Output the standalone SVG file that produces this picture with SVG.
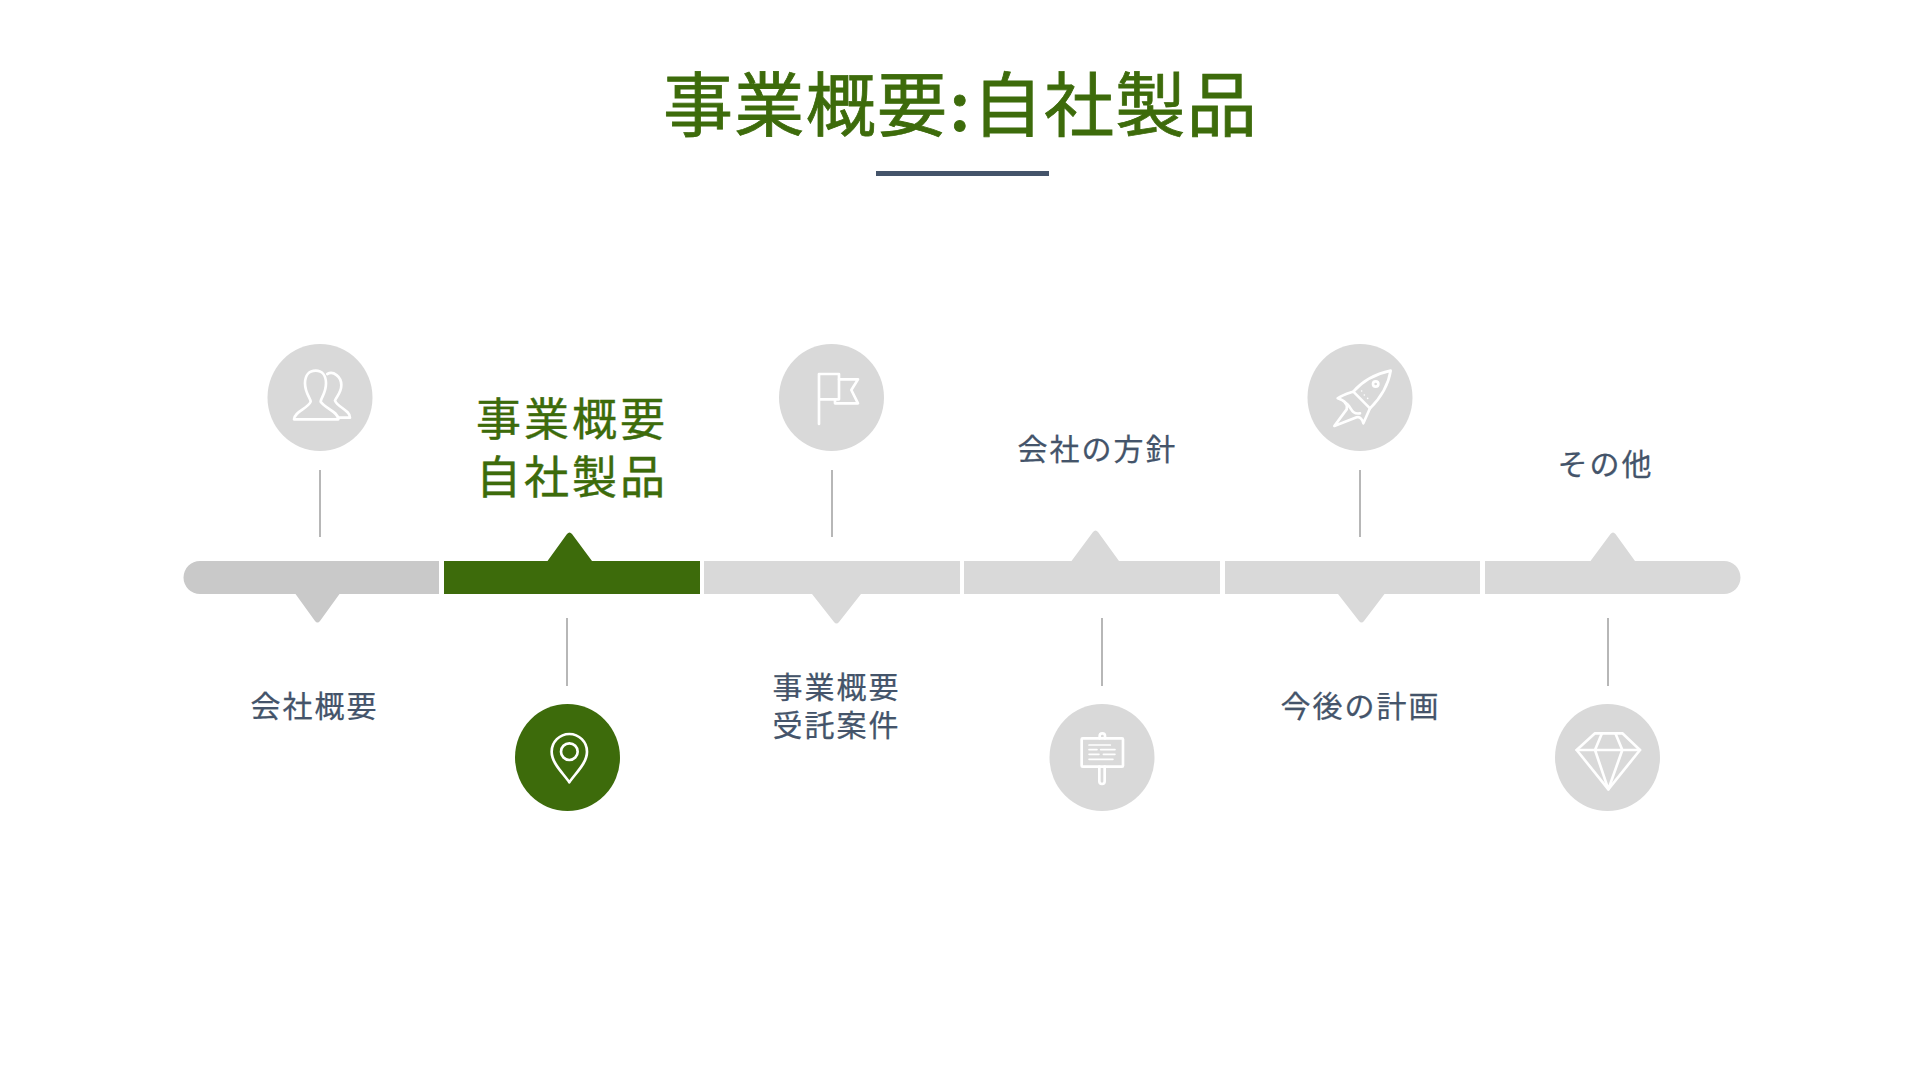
<svg xmlns="http://www.w3.org/2000/svg" width="1920" height="1080" viewBox="0 0 1920 1080">
<style>
text{font-family:"Lato","Noto Sans CJK JP","Noto Sans",sans-serif;text-anchor:middle}
.title{font-size:70px;letter-spacing:1.400px;fill:#3d6b0b;stroke:#3d6b0b;stroke-width:.8px}
.colon{font-weight:700;font-size:72px}
.lab{font-size:30px;letter-spacing:2px;fill:#44546a;stroke:#44546a;stroke-width:.25px}
.act{font-size:45px;letter-spacing:3px;fill:#3d6b0b;stroke:#3d6b0b;stroke-width:.4px}
.seg{fill:#d9d9d9}
.disc{fill:#d9d9d9}
.con{stroke:#b7b7b7;stroke-width:2;fill:none}
.ic{fill:none;stroke:#fff;stroke-width:8;stroke-linejoin:round;stroke-linecap:round}
.thin{stroke-width:5}
</style>
<rect width="1920" height="1080" fill="#fff"/>
<g id="title">
<text class="title" x="960.500" y="131">事業概要<tspan class="colon" dx="2">:</tspan><tspan dx="2">自</tspan>社製品</text>
<rect x="876" y="171" width="173" height="5" fill="#44546a"/>
</g>
<g id="connectors">
<line class="con" x1="320" y1="470" x2="320" y2="537"/>
<line class="con" x1="567" y1="618" x2="567" y2="686"/>
<line class="con" x1="832" y1="470" x2="832" y2="537"/>
<line class="con" x1="1102" y1="618" x2="1102" y2="686"/>
<line class="con" x1="1360" y1="470" x2="1360" y2="537"/>
<line class="con" x1="1608" y1="618" x2="1608" y2="686"/>
</g>
<g id="step1">
<path fill="#c9c9c9" d="M200 561H439V594H339.500L320 621Q317.500 624 315 621L295.500 594H200A16.500 16.500 0 0 1 200 561Z"/>
<ellipse class="disc" cx="320" cy="397.500" rx="52.500" ry="53.500"/>
<g class="ic" transform="translate(250 330) scale(.33333)">
<path d="M132 268H265C265 245 225 235 212 215C212 205 228 190 228 160C228 135 215 122 197 122C178 122 165 135 165 160C165 190 182 205 182 215C175 235 132 245 132 268Z"/>
<path d="M232 132C250 122 274 140 274 165C274 190 258 200 255 212C262 232 300 240 300 263H265"/>
</g>
<text class="lab" x="314.500" y="717">会社概要</text>
</g>
<g id="step2">
<path fill="#3d6b0b" d="M444 561H547.500L567 534Q569.500 531 572 534L592 561H700V594H444Z"/>
<ellipse cx="567.500" cy="757.500" rx="52.500" ry="53.500" fill="#3d6b0b"/>
<g class="ic" transform="translate(500 690) scale(.33333)">
<path d="M208 277C190 250 155 220 155 185A53 53 0 0 1 261 185C261 220 226 250 208 277Z"/>
<circle cx="208" cy="185" r="25"/>
</g>
<text class="act" x="572" y="436">事業概要</text>
<text class="act" x="572" y="494">自社製品</text>
</g>
<g id="step3">
<path class="seg" d="M704 561H960V594H861L839 622Q836.500 625 834 622L812 594H704Z"/>
<ellipse class="disc" cx="831.500" cy="397.500" rx="52.500" ry="53.500"/>
<g class="ic" transform="translate(770 330) scale(.33333)">
<path d="M147 282V132H207V208H147"/>
<path d="M207 148H264L244 180L264 220H195V208"/>
</g>
<text class="lab" x="836.500" y="698">事業概要</text>
<text class="lab" x="836.500" y="736">受託案件</text>
</g>
<g id="step4">
<path class="seg" d="M964 561H1071.500L1093 532Q1095.500 529 1098 532L1119 561H1220V594H964Z"/>
<ellipse class="disc" cx="1102" cy="757.500" rx="52.500" ry="53.500"/>
<g class="ic" transform="translate(1035 690) scale(.33333)">
<rect x="140" y="145" width="124" height="85" rx="3"/>
<path d="M194 145V138A8 8 0 0 1 210 138V145"/>
<path d="M193 230V274A8 8 0 0 0 209 274V230"/>
<path class="thin" d="M162 165H226M162 179H186M197 179H240M162 193H192M205 193H240M162 208H234"/>
</g>
<text class="lab" x="1097.500" y="460">会社の方針</text>
</g>
<g id="step5">
<path class="seg" d="M1225 561H1480V594H1384.500L1364 621Q1361.500 624 1359 621L1338 594H1225Z"/>
<ellipse class="disc" cx="1360" cy="397.500" rx="52.500" ry="53.500"/>
<g class="ic" transform="translate(1295 330) scale(.33333)">
<path d="M287 122C250 130 205 150 175 185L225 235C260 200 280 165 287 122Z"/>
<path d="M175 185C160 190 142 195 128 205C145 210 160 218 155 238L118 288L185 262C195 258 203 270 205 280L225 235"/>
<path d="M150 218C170 225 165 255 195 250"/>
<circle cx="242" cy="162" r="8"/>
<path class="thin" d="M200 183V183.100M208 195V195.100M218 205V205.100"/>
</g>
<text class="lab" x="1360.500" y="717">今後の計画</text>
</g>
<g id="step6">
<path class="seg" d="M1485 561H1590.500L1610.500 534Q1613 531 1615.500 534L1635 561H1724A16.500 16.500 0 0 1 1724 594H1485Z"/>
<ellipse class="disc" cx="1607.500" cy="757.500" rx="52.500" ry="53.500"/>
<g class="ic" transform="translate(1545 690) scale(.33333)">
<path d="M150 130H232L285 180L190 298L95 180Z"/>
<path d="M95 180H285M150 180L190 298L232 180M170 132L150 180M212 132L232 180"/>
</g>
<text class="lab" x="1605.500" y="475">その他</text>
</g>
</svg>
